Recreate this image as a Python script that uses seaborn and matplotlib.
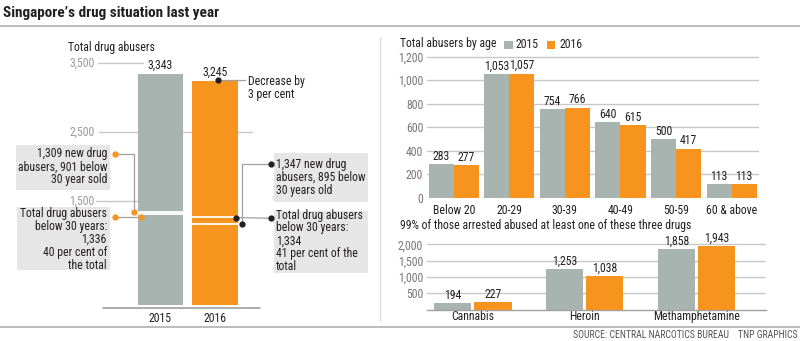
import matplotlib
matplotlib.use('Agg')
import matplotlib.pyplot as plt
import seaborn as sns
import pandas as pd
from matplotlib.patches import Rectangle

# ---------------- data ----------------
years = ['2015', '2016']
total_abusers = [3343, 3245]
total_ticks = [1500, 2500, 3500]
levels_2015 = [1336, 1309]          # white marker lines inside the 2015 bar
levels_2016 = [1264, 1167]          # white marker lines inside the 2016 bar

age_groups = ['Below 20', '20-29', '30-39', '40-49', '50-59', '60 & above']
age_2015 = [283, 1053, 754, 640, 500, 113]
age_2016 = [277, 1057, 766, 615, 417, 113]
age_ticks = [0, 200, 400, 600, 800, 1000, 1200]

drugs = ['Cannabis', 'Heroin', 'Methamphetamine']
drug_2015 = [194, 1253, 1858]
drug_2016 = [227, 1038, 1943]
drug_ticks = [500, 1000, 1500, 2000]

# ---------------- style ----------------
GRAY = '#a8b4b0'
ORANGE = '#f7941d'
BOX = '#e6e6e6'
DARK = '#231f20'
LINE = '#a0a0a0'
GRID = '#c8c8c8'
FS = 8.5

sns.set_theme(style='white')
plt.rcParams['font.family'] = ['Roboto Condensed', 'DejaVu Sans']

W, H = 800, 341
fig = plt.figure(figsize=(8, 3.41), dpi=100)
fig.patch.set_facecolor('white')


def rect(x0, y0, x1, y1):
    return [x0 / W, 1 - y1 / H, (x1 - x0) / W, (y1 - y0) / H]


def fmt(v):
    return f'{v:,.0f}'

# ---------------- left chart: total abusers ----------------
ax1 = fig.add_axes(rect(96, 40, 262, 308))
df1 = pd.DataFrame({'year': years, 'total': total_abusers})
sns.barplot(data=df1, x='year', y='total', hue='year', palette=[GRAY, ORANGE],
            width=0.835, saturation=1, linewidth=0, legend=False, ax=ax1, zorder=3)
ax1.set_xlim(-1.183, 1.862)
ax1.set_ylim(-50.7, 3833)
for s in ax1.spines.values():
    s.set_visible(False)
ax1.set_xlabel('')
ax1.set_ylabel('')
ax1.set_yticks([])
ax1.tick_params(axis='x', length=0, pad=3, labelsize=FS, labelcolor=DARK)


def dx(px):
    return (px - 160.5) / 54.5

# horizontal reference lines with their labels
spans = {3500: (98, 143), 2500: (99, 252), 1500: (96, 138)}
for t in total_ticks:
    a, b = spans[t]
    ax1.plot([dx(a), dx(b)], [t, t], color=GRID, lw=1, zorder=1, clip_on=False)
    ax1.text(dx(94.5), t, fmt(t), ha='right', va='center', fontsize=FS,
             color='#9a9a9a', clip_on=False)
ax1.plot([dx(103), dx(260)], [-50.7, -50.7], color=LINE, lw=1.2, zorder=4, clip_on=False)

for c in ax1.containers:
    ax1.bar_label(c, labels=[fmt(v) for v in c.datavalues], padding=1.5,
                  fontsize=FS, color=DARK)

# white marker lines inside bars
for lv in levels_2015:
    ax1.plot([-0.4175, 0.4175], [lv, lv], color='white', lw=1.3, zorder=4)
for lv in levels_2016:
    ax1.plot([1 - 0.4175, 1 + 0.4175], [lv, lv], color='white', lw=1.3, zorder=4)

# ---------------- right top: by age ----------------
ax2 = fig.add_axes(rect(426.7, 50, 759.3, 197.7))
df2 = pd.DataFrame({'age': age_groups * 2,
                    'year': ['2015'] * 6 + ['2016'] * 6,
                    'n': age_2015 + age_2016})
sns.barplot(data=df2, x='age', y='n', hue='year', palette=[GRAY, ORANGE],
            width=0.9, saturation=1, linewidth=0, ax=ax2, zorder=3, legend=False)
ax2.set_xlim(-0.486, 5.497)
ax2.set_ylim(0, 1257)
ax2.set_yticks(age_ticks)
ax2.set_yticklabels([fmt(t) for t in age_ticks])
ax2.yaxis.grid(True, color=GRID, lw=1)
ax2.set_axisbelow(True)
for s in ax2.spines.values():
    s.set_visible(False)
ax2.set_xlabel('')
ax2.set_ylabel('')
ax2.tick_params(axis='y', length=0, pad=2.5, labelsize=FS, labelcolor='#777777')
ax2.tick_params(axis='x', length=0, pad=4.5, labelsize=FS, labelcolor=DARK)
for c in ax2.containers:
    ax2.bar_label(c, labels=[fmt(v) for v in c.datavalues], padding=1,
                  fontsize=FS, color=DARK)

# ---------------- right bottom: drugs ----------------
ax3 = fig.add_axes(rect(426.7, 238, 766, 309.7))
df3 = pd.DataFrame({'drug': drugs * 2,
                    'year': ['2015'] * 3 + ['2016'] * 3,
                    'n': drug_2015 + drug_2016})
sns.barplot(data=df3, x='drug', y='n', hue='year', palette=[GRAY, ORANGE],
            width=0.72, gap=0.07, saturation=1, linewidth=0, ax=ax3, zorder=3,
            legend=False)
ax3.set_xlim(-0.41, 2.62)
ax3.set_ylim(0, 2195)
ax3.set_yticks(drug_ticks)
ax3.set_yticklabels([fmt(t) for t in drug_ticks])
ax3.yaxis.grid(True, color=GRID, lw=1)
ax3.set_axisbelow(True)
for k, s in ax3.spines.items():
    s.set_visible(k == 'bottom')
ax3.spines['bottom'].set_color(LINE)
ax3.spines['bottom'].set_linewidth(1)
ax3.set_xlabel('')
ax3.set_ylabel('')
ax3.tick_params(axis='y', length=0, pad=2.5, labelsize=FS, labelcolor='#777777')
ax3.tick_params(axis='x', length=0, pad=0, labelsize=FS, labelcolor=DARK)
for c in ax3.containers:
    ax3.bar_label(c, labels=[fmt(v) for v in c.datavalues], padding=1,
                  fontsize=FS, color=DARK)

# ---------------- overlay (pixel coords) ----------------
ov = fig.add_axes([0, 0, 1, 1], zorder=10)
ov.set_xlim(0, W)
ov.set_ylim(H, 0)
ov.axis('off')

ov.text(3, 13.5, 'Singapore\u2019s drug situation last year', fontsize=11,
        fontweight='bold', color=DARK, ha='left', va='center')
ov.plot([0, W], [25.5, 25.5], color='#b0b0b0', lw=1.2)
ov.plot([0, W], [327.3, 327.3], color='#b0b0b0', lw=1.2)
ov.plot([380, 380], [37, 321], color='#dddddd', lw=1)
ov.text(798, 335, 'SOURCE: CENTRAL NARCOTICS BUREAU    TNP GRAPHICS',
        fontsize=7, color='#555555', ha='right', va='center')

ov.text(68, 48, 'Total drug abusers', ha='left', va='center', fontsize=FS, color=DARK)

# legend of age chart
ov.text(400, 44, 'Total abusers by age', fontsize=FS, color=DARK, ha='left', va='center')
ov.add_patch(Rectangle((504, 40.5), 8.5, 8, color=GRAY, lw=0))
ov.text(516, 44, '2015', fontsize=FS, color=DARK, ha='left', va='center')
ov.add_patch(Rectangle((546.5, 40.5), 8.5, 8, color=ORANGE, lw=0))
ov.text(559, 44, '2016', fontsize=FS, color=DARK, ha='left', va='center')

ov.text(400, 226, '99% of those arrested abused at least one of these three drugs',
        fontsize=FS, color=DARK, ha='left', va='center')

# decrease note
ov.plot([217.7, 245], [80, 80], color=LINE, lw=0.9)
ov.plot([217.7], [80], 'o', color=DARK, ms=3.5)
ov.text(248, 75, 'Decrease by\n3 per cent', fontsize=FS, color=DARK,
        ha='left', va='top', linespacing=1.0)

# annotation boxes
ov.add_patch(Rectangle((16, 145), 94, 45, color=BOX, lw=0))
ov.text(107, 167, '1,309 new drug\nabusers, 901 below\n30 year sold', fontsize=FS,
        color=DARK, ha='right', va='center', multialignment='right', linespacing=1.0)
ov.plot([115, 134, 134], [154, 154, 212], color=LINE, lw=0.9)
ov.plot([115, 134], [154, 212], 'o', color=ORANGE, ms=3.5)

ov.add_patch(Rectangle((17, 207), 93, 63, color=BOX, lw=0))
ov.text(107, 239.5, 'Total drug abusers\nbelow 30 years:\n1,336\n40 per cent of\nthe total',
        fontsize=FS, color=DARK, ha='right', va='center', multialignment='right',
        linespacing=1.0)
ov.plot([115, 141], [216.7, 216.7], color=LINE, lw=0.9)
ov.plot([115, 141], [216.7, 216.7], 'o', color=ORANGE, ms=3.5)

ov.add_patch(Rectangle((274, 152.7), 94, 49, color=BOX, lw=0))
ov.text(276, 177.5, '1,347 new drug\nabusers, 895 below\n30 years old', fontsize=FS,
        color=DARK, ha='left', va='center', multialignment='left', linespacing=1.0)
ov.plot([271, 242, 242], [164.3, 164.3, 224.3], color=LINE, lw=0.9)
ov.plot([271, 242], [164.3, 224.3], 'o', color=DARK, ms=3.5)

ov.add_patch(Rectangle((274, 210.7), 94, 62, color=BOX, lw=0))
ov.text(276, 241, 'Total drug abusers\nbelow 30 years:\n1,334\n41 per cent of the\ntotal',
        fontsize=FS, color=DARK, ha='left', va='center', multialignment='left',
        linespacing=1.0)
ov.plot([271, 236], [218.3, 217.5], color=LINE, lw=0.9)
ov.plot([271, 236], [218.3, 217.5], 'o', color=DARK, ms=3.5)

fig.savefig('out.png', dpi=100, facecolor='white')
